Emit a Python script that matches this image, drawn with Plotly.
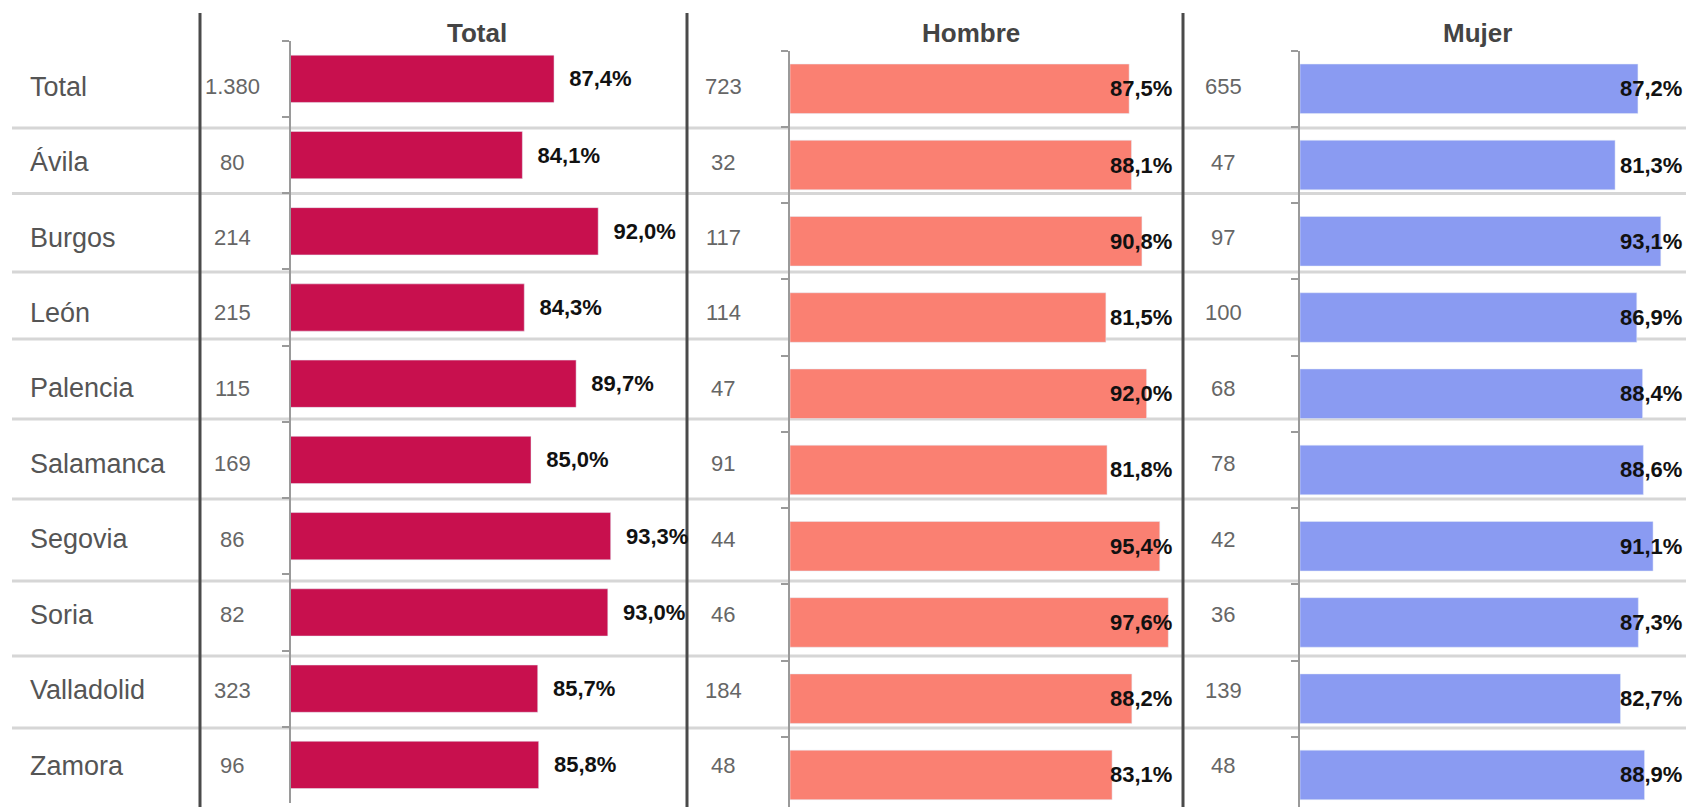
import plotly.graph_objects as go

# datos
provincias = ['Total', 'Ávila', 'Burgos', 'León', 'Palencia', 'Salamanca',
              'Segovia', 'Soria', 'Valladolid', 'Zamora']
total_pct = [87.4, 84.1, 92.0, 84.3, 89.7, 85.0, 93.3, 93.0, 85.7, 85.8]
total_n = [1380, 80, 214, 215, 115, 169, 86, 82, 323, 96]
hombre_pct = [87.5, 88.1, 90.8, 81.5, 92.0, 81.8, 95.4, 97.6, 88.2, 83.1]
hombre_n = [723, 32, 117, 114, 47, 91, 44, 46, 184, 48]
mujer_pct = [87.2, 81.3, 93.1, 86.9, 88.4, 88.6, 91.1, 87.3, 82.7, 88.9]
mujer_n = [655, 47, 97, 100, 68, 78, 42, 36, 139, 48]

W, H = 1686, 807
FONT = 'Liberation Sans, Arial, sans-serif'


def pct(v):
    return f'{v:.1f}'.replace('.', ',') + '%'


def num(v):
    return f'{v:,}'.replace(',', '.')


fig = go.Figure()

fig.add_trace(go.Bar(y=provincias, x=total_pct, orientation='h', width=0.62,
                     marker_color='#C8104E',
                     text=['<b>\u00a0\u00a0' + pct(v) + '</b>' for v in total_pct],
                     textposition='outside', constraintext='none', cliponaxis=False,
                     outsidetextfont=dict(family=FONT, size=22, color='#111111'),
                     xaxis='x', yaxis='y'))
fig.add_trace(go.Bar(y=provincias, x=hombre_pct, orientation='h', width=0.65,
                     marker_color='#FA8072', xaxis='x2', yaxis='y2'))
fig.add_trace(go.Bar(y=provincias, x=mujer_pct, orientation='h', width=0.65,
                     marker_color='#8A9BF2', xaxis='x3', yaxis='y3'))

ann = []
# titulos
for txt, xc in [('Total', 477), ('Hombre', 971), ('Mujer', 1477)]:
    ann.append(dict(text='<b>' + txt + '</b>', x=xc / W, y=1 - 33 / H, xref='paper', yref='paper',
                    xanchor='center', yanchor='middle', showarrow=False,
                    font=dict(family=FONT, size=26, color='#444444')))

# tabla de la izquierda: filas sobre el eje y4 (indice de fila)
for i, p in enumerate(provincias):
    ann.append(dict(text=p, x=28 / W, y=i, xref='paper', yref='y4', xanchor='left',
                    showarrow=False, font=dict(family=FONT, size=27, color='#555555')))
    for vals, xc in [(total_n, 232), (hombre_n, 723), (mujer_n, 1223)]:
        ann.append(dict(text=num(vals[i]), x=xc / W, y=i, xref='paper', yref='y4',
                        xanchor='center', showarrow=False,
                        font=dict(family=FONT, size=22, color='#666666')))
    for vals, ax, sh in [(hombre_pct, '2', -4), (mujer_pct, '3', -2)]:
        ann.append(dict(text='<b>' + pct(vals[i]) + '</b>', x=1, y=p,
                        xref='x' + ax + ' domain', yref='y' + ax, xshift=sh,
                        xanchor='right', showarrow=False,
                        font=dict(family=FONT, size=22, color='#111111')))

shapes = []
# separadores de fila
for yy in [128, 193.5, 272, 339, 419, 499, 581, 656, 728]:
    shapes.append(dict(type='line', xref='paper', yref='paper', x0=12 / W, x1=1,
                       y0=1 - yy / H, y1=1 - yy / H, layer='below',
                       line=dict(color='#D6D6D6', width=3)))
# lineas verticales
for xx in [200, 687, 1183]:
    shapes.append(dict(type='line', xref='paper', yref='paper', x0=xx / W, x1=xx / W,
                       y0=0, y1=1 - 13 / H, layer='below',
                       line=dict(color='#4A4A4A', width=3)))

xoff = dict(visible=False, showgrid=False, zeroline=False)
yax = dict(type='category', showline=True, linecolor='#9A9A9A', linewidth=2,
           ticks='outside', tickson='boundaries', ticklen=7, tickcolor='#9A9A9A',
           tickwidth=2, showticklabels=False, showgrid=False, zeroline=False)

fig.update_layout(
    width=W, height=H, margin=dict(l=0, r=0, t=0, b=0),
    paper_bgcolor='white', plot_bgcolor='rgba(0,0,0,0)',
    showlegend=False, annotations=ann, shapes=shapes,
    xaxis=dict(xoff, domain=[291 / W, 675 / W], range=[60, 100]),
    xaxis2=dict(xoff, domain=[790 / W, 1177.6 / W], range=[0, 100]),
    xaxis3=dict(xoff, domain=[1300 / W, 1], range=[0, 99.6]),
    yaxis=dict(yax, domain=[1 - 803 / H, 1 - 40.7 / H], range=[9.5, -0.5], anchor='x'),
    yaxis2=dict(yax, domain=[0, 1 - 50.7 / H], range=[9.421, -0.5], anchor='x2'),
    yaxis3=dict(yax, domain=[0, 1 - 50.7 / H], range=[9.421, -0.5], anchor='x3'),
    yaxis4=dict(visible=False, domain=[0, 1], range=[9.548, -1.148], anchor='x',
                showgrid=False, zeroline=False),
)

# sin margen del body para que la figura ocupe toda la ventana
fig.write_html('out.html', config={'displayModeBar': False},
               post_script="document.body.style.margin='0px';")
